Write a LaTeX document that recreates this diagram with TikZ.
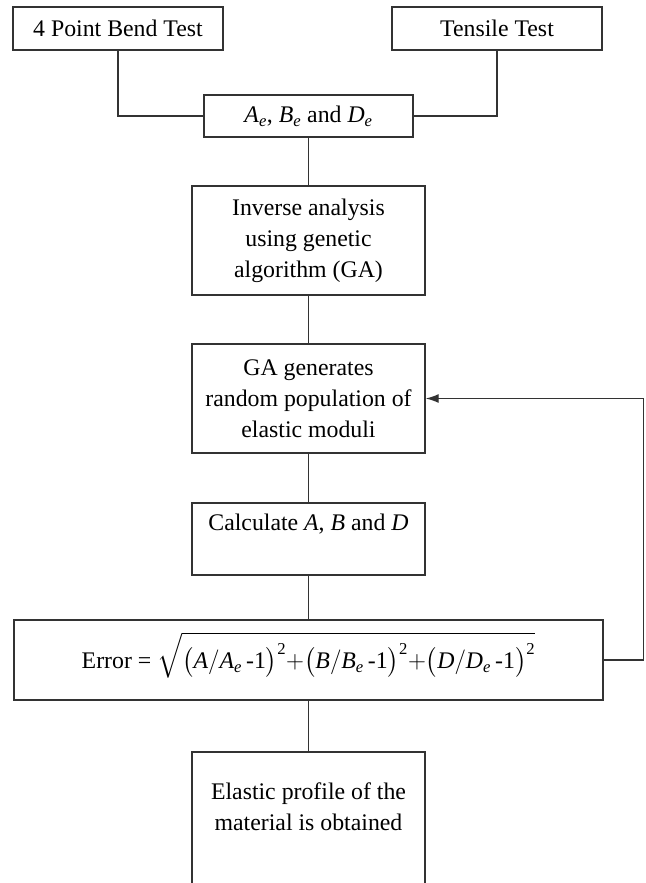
\documentclass[tikz,border=0pt]{standalone}
\usepackage{amsmath}
\usepackage{fontspec}
\setmainfont{Liberation Serif}
\usetikzlibrary{arrows.meta}
% italic letter with italic subscript, as in A_e
\newcommand\itsub[2]{\textit{#1}\textsubscript{\textit{#2}}}
\tikzset{
  box/.style={draw=black!80, line width=1.35pt, fill=white, inner sep=0pt,
    align=center, font=\fontsize{23.8}{31}\selectfont},
  txt/.style={inner sep=0pt, align=center, font=\fontsize{23.8}{31}\selectfont},
  link/.style={draw=black!80, line width=1.35pt},
}
\begin{document}
\begin{tikzpicture}[x=1pt, y=-1pt]
\useasboundingbox (0,0) rectangle (645,883);
\begin{scope}
\clip (0,0) rectangle (645,883);
\fill[white] (0,0) rectangle (645,883);

% input tests
\node[box, minimum width=210pt, minimum height=43pt] (bend) at (118,28.5) {4 Point Bend Test};
\node[box, minimum width=210pt, minimum height=43pt] (tens) at (497,28.5) {Tensile Test};
\node[box, minimum width=209pt, minimum height=42pt] (meas) at (308.5,116) {\itsub{A}{e}, \itsub{B}{e} and \itsub{D}{e}};

% inverse analysis loop
\node[box, minimum width=233pt, minimum height=109pt] (inv) at (308.5,240.5)
  {Inverse analysis\\using genetic\\algorithm (GA)};
\node[box, minimum width=233pt, minimum height=109pt] (gen) at (308.5,398.5)
  {GA generates\\random population of\\elastic moduli};
\node[box, minimum width=233pt, minimum height=72pt] (calc) at (308.5,539)
  {Calculate \textit{A}, \textit{B} and \textit{D}\\[2pt]\mbox{}};
\node[box, minimum width=589pt, minimum height=80pt] (err) at (308.5,660)
  {Error = $\sqrt{\rule{0pt}{1.4em}\bigl(\textit{A}/\textit{A}_{\textit{e}}\,\text{-1}\bigr)^{\text{2}}{+}\bigl(\textit{B}/\textit{B}_{\textit{e}}\,\text{-1}\bigr)^{\text{2}}{+}\bigl(\textit{D}/\textit{D}_{\textit{e}}\,\text{-1}\bigr)^{\text{2}}}\rule[-0.8em]{0pt}{0pt}$};

% result
\node[box, minimum width=233pt, minimum height=170pt] (res) at (308.5,837) {};
\node[txt] (restxt) at (308.5,807) {Elastic profile of the\\material is obtained};

% connectors
\draw[link] (bend.south) |- (meas.west);
\draw[link] (tens.south) |- (meas.east);
\draw[link] (meas.south) -- (inv.north);
\draw[link] (inv.south) -- (gen.north);
\draw[link] (gen.south) -- (calc.north);
\draw[link] (calc.south) -- (err.north);
\draw[link] (err.south) -- (res.north);
\coordinate (back) at (643.5,660);
\draw[link, -{Latex[length=13pt,width=9pt]}] (err.east) -- (back) |- (gen.east);
\end{scope}
\end{tikzpicture}
\end{document}
